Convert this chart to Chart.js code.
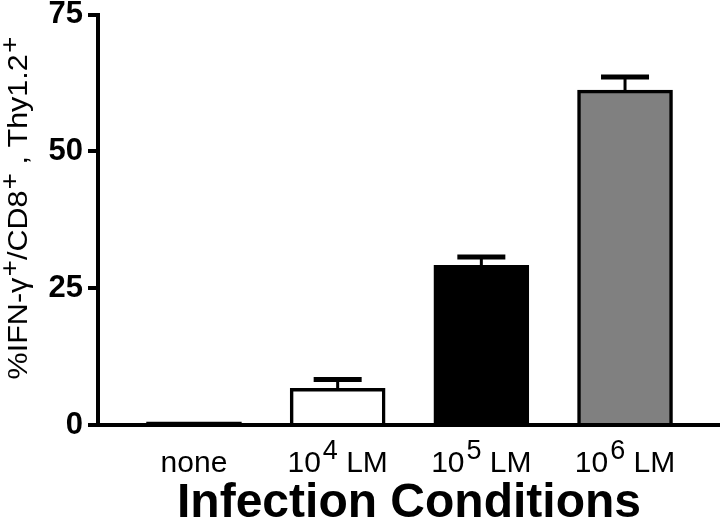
<!DOCTYPE html>
<html>
<head>
<meta charset="utf-8">
<script src="https://cdn.jsdelivr.net/npm/chart.js@4/dist/chart.umd.min.js"></script>
<style>
body { margin: 0; background: #fff; }
#wrap { width: 720px; height: 521px; }
</style>
</head>
<body>
<div id="wrap"><canvas id="c"></canvas></div>
<script>
// '^' marks the start / end of a superscript part
let categories = ['none', '10^4^ LM', '10^5^ LM', '10^6^ LM']
let values = [0.6, 6.7, 29.2, 61.2]
let errors = [0, 1.6, 1.5, 2.4]
let colors = ['#000000', '#ffffff', '#000000', '#808080']
let yTicks = [0, 25, 50, 75]
let yTitle = '%IFN-γ^+^/CD8^+^ , Thy1.2^+'
let xTitle = 'Infection Conditions'

let fam = "'Liberation Sans', Arial, Helvetica, sans-serif"

let errorBars = {
    id: 'errorBars',
    afterDatasetsDraw(chart) {
        let ctx = chart.ctx
        let x = chart.scales.x
        let y = chart.scales.y
        ctx.save()
        ctx.strokeStyle = '#000'
        for (let i = 0; i < values.length; i++) {
            if (!errors[i]) continue
            let px = x.getPixelForValue(i)
            let top = y.getPixelForValue(values[i])
            let hi = y.getPixelForValue(values[i] + errors[i])
            ctx.lineWidth = 3
            ctx.beginPath()
            ctx.moveTo(px, top)
            ctx.lineTo(px, hi)
            ctx.stroke()
            ctx.lineWidth = 5
            ctx.beginPath()
            ctx.moveTo(px - 24, hi)
            ctx.lineTo(px + 24, hi)
            ctx.stroke()
        }
        ctx.restore()
    }
}

// draws text with superscript parts, starting at x0 on baseline 0
let richText = function (ctx, str, size, supSize, raise, gap, draw) {
    let parts = str.split('^')
    let w = 0
    for (let k = 0; k < parts.length; k++) {
        let sup = k % 2 == 1
        ctx.font = (sup ? supSize : size) + 'px ' + fam
        if (sup) w += gap
        if (draw) ctx.fillText(parts[k], draw.x + w, sup ? -raise : 0)
        w += ctx.measureText(parts[k]).width
    }
    return w
}

let labels = {
    id: 'labels',
    afterDraw(chart) {
        let ctx = chart.ctx
        let x = chart.scales.x
        ctx.save()
        ctx.fillStyle = '#000'
        ctx.textBaseline = 'alphabetic'
        ctx.textAlign = 'left'
        for (let i = 0; i < categories.length; i++) {
            let cx = x.getPixelForValue(i)
            let w = richText(ctx, categories[i], 30, 27, 13, 2, null)
            ctx.save()
            ctx.translate(cx, 472)
            richText(ctx, categories[i], 30, 27, 13, 2, { x: -w / 2 })
            ctx.restore()
        }
        // y axis title, rotated
        ctx.save()
        ctx.translate(27, 208)
        ctx.rotate(-Math.PI / 2)
        ctx.scale(1.13, 1)
        let tw = richText(ctx, yTitle, 27, 25, 9, 1, null)
        richText(ctx, yTitle, 27, 25, 9, 1, { x: -tw / 2 })
        ctx.restore()
        ctx.restore()
    }
}

new Chart(document.getElementById('c'), {
    type: 'bar',
    data: {
        datasets: [{
            data: values.map((v, i) => ({ x: i, y: v })),
            backgroundColor: colors,
            borderColor: '#000',
            borderWidth: 3.5,
            borderSkipped: 'start',
            barThickness: 95
        }]
    },
    options: {
        responsive: true,
        maintainAspectRatio: false,
        animation: false,
        layout: { padding: { top: 0, right: 0, left: 0, bottom: 0 } },
        plugins: {
            legend: { display: false },
            tooltip: { enabled: false }
        },
        scales: {
            x: {
                type: 'linear',
                offset: false,
                min: -0.668,
                max: 3.661,
                afterFit: s => { s.height = 96 },
                grid: { display: true, drawOnChartArea: false, drawTicks: false },
                border: { color: '#000', width: 4 },
                ticks: { display: false },
                title: {
                    display: true,
                    text: xTitle,
                    color: '#000',
                    padding: 0,
                    font: { family: fam, size: 48, weight: 'bold', lineHeight: 0.7 }
                }
            },
            y: {
                min: 0,
                max: 75,
                afterFit: s => { s.width = 98 },
                afterBuildTicks: s => { s.ticks = yTicks.map(v => ({ value: v })) },
                grid: { drawOnChartArea: false, drawTicks: true, tickLength: 10, color: '#000', lineWidth: 4 },
                border: { color: '#000', width: 4 },
                ticks: { color: '#000', padding: 5, font: { family: fam, size: 31, weight: 'bold', lineHeight: 0.62 } }
            }
        }
    },
    plugins: [errorBars, labels]
})
</script>
</body>
</html>
